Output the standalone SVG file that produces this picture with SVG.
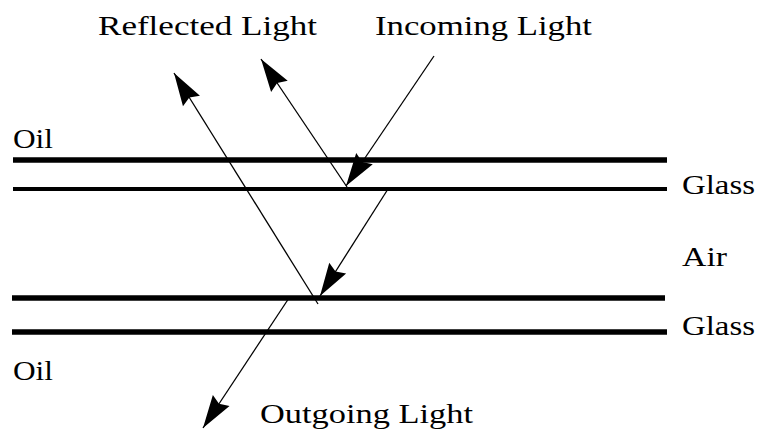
<svg xmlns="http://www.w3.org/2000/svg" width="757" height="434" viewBox="0 0 757 434">
  <style>
    .lbl { font-family: "Liberation Serif", "Times New Roman", serif; font-size: 28px; fill: #000; }
    .thick { stroke: #000; stroke-width: 5.5; }
    .thin { stroke: #000; stroke-width: 4; }
    .ray { stroke: #000; stroke-width: 1.3; fill: none; marker-end: url(#arrow); }
  </style>
  <defs>
    <marker id="arrow" markerUnits="userSpaceOnUse" orient="auto" markerWidth="40" markerHeight="30" viewBox="-36 -15 40 30" refX="0" refY="0">
      <path d="M0,0 L-33,-10 L-29,0 L-33,10 Z" fill="#000"/>
    </marker>
  </defs>
  <rect width="757" height="434" fill="#fff"/>

  <g id="interfaces">
    <line class="thick" x1="13" y1="160" x2="667" y2="160"/>
    <line class="thin" x1="13" y1="189" x2="667" y2="189"/>
    <line class="thick" x1="12" y1="298" x2="665" y2="298"/>
    <line class="thick" x1="12" y1="332" x2="667" y2="332"/>
  </g>

  <g id="labels">
    <text id="reflected-label" class="lbl" x="98" y="35" textLength="219" lengthAdjust="spacingAndGlyphs">Reflected Light</text>
    <text id="incoming-label" class="lbl" x="375" y="35" textLength="217" lengthAdjust="spacingAndGlyphs">Incoming Light</text>
    <text id="oil-top" class="lbl" x="13" y="148" textLength="40" lengthAdjust="spacingAndGlyphs">Oil</text>
    <text id="glass-top" class="lbl" x="682" y="194" textLength="73" lengthAdjust="spacingAndGlyphs">Glass</text>
    <text id="air" class="lbl" x="682" y="266" textLength="45" lengthAdjust="spacingAndGlyphs">Air</text>
    <text id="glass-bottom" class="lbl" x="682" y="335" textLength="73" lengthAdjust="spacingAndGlyphs">Glass</text>
    <text id="oil-bottom" class="lbl" x="13" y="380" textLength="40" lengthAdjust="spacingAndGlyphs">Oil</text>
    <text id="outgoing-label" class="lbl" x="260" y="423" textLength="213" lengthAdjust="spacingAndGlyphs">Outgoing Light</text>
  </g>

  <g id="connectors">
    <line id="incoming" class="ray" x1="434" y1="56" x2="346" y2="186"/>
    <line id="reflected-1" class="ray" x1="347" y1="187" x2="261" y2="59"/>
    <line id="into-air" class="ray" x1="388" y1="189" x2="320" y2="296"/>
    <line id="reflected-2" class="ray" x1="318" y1="304" x2="174" y2="73"/>
    <line id="outgoing" class="ray" x1="289" y1="298" x2="203" y2="428"/>
  </g>
</svg>
